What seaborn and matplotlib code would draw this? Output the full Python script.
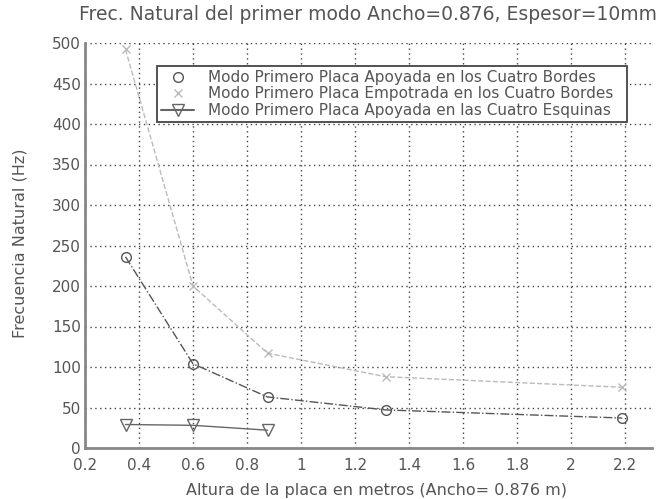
import matplotlib
matplotlib.use("Agg")
import matplotlib.pyplot as plt
import seaborn as sns
import pandas as pd
from matplotlib.lines import Line2D

# ---- data ----
alturas = [0.35, 0.6, 0.876, 1.314, 2.19]
apoyada_bordes = [236, 104, 63, 47, 37]
empotrada_bordes = [492, 200, 117, 88, 75]
alturas_esquinas = [0.35, 0.6, 0.876]
apoyada_esquinas = [29, 28, 22]

etiquetas = [
    "Modo Primero Placa Apoyada en los Cuatro Bordes",
    "Modo Primero Placa Empotrada en los Cuatro Bordes",
    "Modo Primero Placa Apoyada en las Cuatro Esquinas",
]
x_ticks = [0.2, 0.4, 0.6, 0.8, 1, 1.2, 1.4, 1.6, 1.8, 2, 2.2]
x_ticklabels = ["0.2", "0.4", "0.6", "0.8", "1", "1.2", "1.4", "1.6", "1.8", "2", "2.2"]
y_ticks = list(range(0, 501, 50))

sns.set_theme(style="white")
plt.rcParams["font.family"] = ["DejaVu Sans"]

TXT = "#555555"

fig = plt.figure(figsize=(6.65, 4.99), dpi=100)
ax = fig.add_axes([85 / 665, 1 - 448 / 499, 567 / 665, 405 / 499])

df1 = pd.DataFrame({"x": alturas, "y": apoyada_bordes})
df2 = pd.DataFrame({"x": alturas, "y": empotrada_bordes})
df3 = pd.DataFrame({"x": alturas_esquinas, "y": apoyada_esquinas})

sns.lineplot(data=df1, x="x", y="y", ax=ax, color="#555555", linestyle="-.",
             linewidth=1.0, marker="o", markersize=7, markerfacecolor="none",
             markeredgecolor="#555555", markeredgewidth=1.0)
sns.lineplot(data=df2, x="x", y="y", ax=ax, color="#bbbbbb", linestyle="--",
             linewidth=1.0, marker="x", markersize=6, markeredgecolor="#bbbbbb",
             markeredgewidth=1.0)
sns.lineplot(data=df3, x="x", y="y", ax=ax, color="#666666", linestyle="-",
             linewidth=1.0, marker="v", markersize=8, markerfacecolor="none",
             markeredgecolor="#666666", markeredgewidth=1.0)

ax.set_xlim(0.2, 2.3)
ax.set_ylim(0, 500)
ax.set_xticks(x_ticks)
ax.set_xticklabels(x_ticklabels)
ax.set_yticks(y_ticks)
ax.tick_params(axis="y", labelsize=11, colors=TXT, length=0, pad=3)
ax.tick_params(axis="x", labelsize=11, colors=TXT, length=0, pad=7)
ax.grid(True, linestyle=(0, (1, 2.5)), color="#444444", linewidth=1.0)

for s in ["top", "right"]:
    ax.spines[s].set_visible(False)
for s in ["left", "bottom"]:
    ax.spines[s].set_color("#888888")
    ax.spines[s].set_linewidth(2)

fig.text(368 / 665, 1 - 14 / 499,
         "Frec. Natural del primer modo Ancho=0.876, Espesor=10mm",
         fontsize=13.5, color=TXT, ha="center", va="center")
fig.text(376 / 665, 1 - 491 / 499, "Altura de la placa en metros (Ancho= 0.876 m)",
         fontsize=11.5, color=TXT, ha="center", va="center")
fig.text(20 / 665, 1 - 243 / 499, "Frecuencia Natural (Hz)", fontsize=11.5,
         color=TXT, ha="center", va="center", rotation=90)
ax.set_xlabel("")
ax.set_ylabel("")

handles = [
    Line2D([], [], linestyle="none", marker="o", markersize=7,
           markerfacecolor="none", markeredgecolor="#555555"),
    Line2D([], [], linestyle="none", marker="x", markersize=6,
           markeredgecolor="#bbbbbb"),
    Line2D([], [], linestyle="-", color="#666666", marker="v", markersize=8,
           markerfacecolor="none", markeredgecolor="#666666"),
]
leg = ax.legend(handles, etiquetas, loc="upper left",
                bbox_to_anchor=(0.127, 0.943, 0.829, 0.0), mode="expand",
                fontsize=11, frameon=True, fancybox=False, framealpha=1,
                edgecolor="#444444", handlelength=2.2, borderpad=0.25,
                labelspacing=0.1, handletextpad=0.9, borderaxespad=0)
leg.get_frame().set_linewidth(1.3)
for t in leg.get_texts():
    t.set_color(TXT)

fig.savefig("out.png", dpi=100)
